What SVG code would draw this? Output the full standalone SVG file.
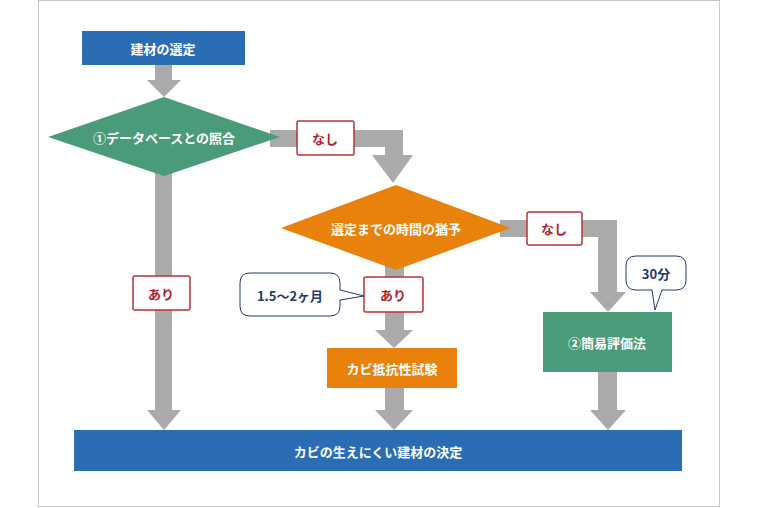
<svg xmlns="http://www.w3.org/2000/svg" width="760" height="508" viewBox="0 0 760 508">
<style>
text{font-family:"Noto Sans CJK JP","Noto Sans",sans-serif;font-size:13px;font-weight:bold;text-anchor:middle;dominant-baseline:central}
.w{fill:#fff}
.r{fill:#b1202a}
.b{fill:#1f3a6e}
.lbl{fill:#fff;stroke:#b5343a;stroke-width:1.5}
.call{fill:#fff;stroke:#1f3a6e;stroke-width:1}
.arr{fill:#aaaaaa}
</style>
<rect x="38.5" y="0.5" width="681" height="506" fill="#fff" stroke="#c8c8c8"/>
<g id="connectors">
<polygon class="arr" points="155,65 172,65 172,80 181,80 164,97 147,80 155,80"/>
<polygon class="arr" points="270,130 403,130 403,155 413,155 393,183 372,155 385,155 385,147 270,147"/>
<polygon class="arr" points="155,170 172,170 172,410 181,410 164,430 147,410 155,410"/>
<polygon class="arr" points="500,220 617,220 617,292 626,292 608,312 590,292 598,292 598,237 500,237"/>
<polygon class="arr" points="385,265 404,265 404,330 413,330 394,348 375,330 385,330"/>
<polygon class="arr" points="385,388 404,388 404,410 413,410 394,430 375,410 385,410"/>
<polygon class="arr" points="598,372 617,372 617,410 626,410 608,430 590,410 598,410"/>
</g>
<g id="start"><rect x="82" y="31" width="163" height="34" fill="#2a6db5"/><text class="w" x="163" y="48">建材の選定</text></g>
<g id="db"><polygon points="48,137 164,97 280,137 164,176" fill="#4a9b7a"/><text class="w" x="164" y="137">①データベースとの照合</text></g>
<g id="nashi1"><rect class="lbl" x="297" y="121" width="57" height="34" rx="2"/><text class="r" x="325" y="138">なし</text></g>
<g id="yoyu"><polygon points="281,228 396,185 511,228 396,270" fill="#e8820c"/><text class="w" x="396" y="228">選定までの時間の猶予</text></g>
<g id="nashi2"><rect class="lbl" x="527" y="212" width="55" height="33" rx="2"/><text class="r" x="554" y="228">なし</text></g>
<g id="ari1"><rect class="lbl" x="133" y="276" width="57" height="34" rx="2"/><text class="r" x="161" y="293">あり</text></g>
<g id="ari2"><rect class="lbl" x="364" y="277" width="59" height="35" rx="2"/><text class="r" x="393" y="294">あり</text></g>
<g id="callout1"><path class="call" d="M250,273 H330 Q340,273 340,283 V290 L364,296 L340,300 V306 Q340,316 330,316 H250 Q240,316 240,306 V283 Q240,273 250,273 Z"/><text class="b" x="290" y="295">1.5〜2ヶ月</text></g>
<g id="callout2"><path class="call" d="M636,256 H676 Q686,256 686,266 V280 Q686,290 676,290 H662 L655,310 L652,290 H636 Q626,290 626,280 V266 Q626,256 636,256 Z"/><text class="b" x="656" y="273">30分</text></g>
<g id="test"><rect x="327" y="348" width="130" height="40" fill="#e8820c"/><text class="w" x="392" y="368">カビ抵抗性試験</text></g>
<g id="simple"><rect x="543" y="312" width="129" height="60" fill="#4a9b7a"/><text class="w" x="607" y="342">②簡易評価法</text></g>
<g id="end"><rect x="74" y="430" width="608" height="41" fill="#2a6db5"/><text class="w" x="378" y="451">カビの生えにくい建材の決定</text></g>
</svg>
